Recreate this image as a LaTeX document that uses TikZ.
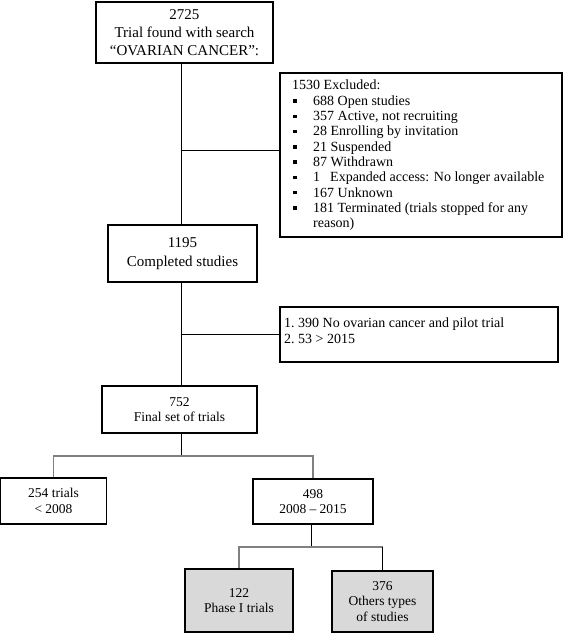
\documentclass[tikz,border=0pt]{standalone}
\usepackage{fontspec}
\setmainfont{Liberation Serif}
\usetikzlibrary{calc}
\definecolor{gline}{HTML}{808080}
\definecolor{gfill}{HTML}{D9D9D9}
\newcommand\bul{\makebox[21pt][l]{\hspace{1pt}\rule[2.6pt]{3.4pt}{3.4pt}}}
\begin{document}
\begin{tikzpicture}[x=1pt,y=-1pt,
  box/.style={draw, line width=1.1pt, inner sep=0pt, align=center},
  big/.style={font=\fontsize{15}{18.3}\selectfont},
  small/.style={font=\fontsize{13.5}{15.5}\selectfont},
  listtext/.style={anchor=north west, inner sep=0pt, align=left, font=\fontsize{14}{15.3}\selectfont},
  grey/.style={fill=gfill},
  conn/.style={line width=0.9pt},
  gconn/.style={draw=gline, line width=1.8pt}]
\useasboundingbox (0,0) rectangle (567,633);

% boxes
\node[box,big,minimum width=177pt,minimum height=61pt] (b1) at (184.5,32.5)
  {2725\\Trial found with search\\“OVARIAN CANCER”:};
\node[box,minimum width=282pt,minimum height=164pt] (ex) at (421,155) {};
\node[listtext] (ext) at (292,80) {1530 Excluded:\\
\bul 688 Open studies\\
\bul 357 Active, not recruiting\\
\bul 28 Enrolling by invitation\\
\bul 21 Suspended\\
\bul 87 Withdrawn\\
\bul 1\hspace{10pt}Expanded access: No longer available\\
\bul 167 Unknown\\
\bul 181 Terminated (trials stopped for any\\
\hspace*{21pt}reason)};
\node[box,big,minimum width=149pt,minimum height=57pt] (b2) at (182.5,253.5)
  {1195\\Completed studies};
\node[box,minimum width=278pt,minimum height=55pt] (b3) at (419,334.5) {};
\node[listtext] (b3t) at (284,318)
  {\makebox[14pt][l]{1.}390 No ovarian cancer and pilot trial\\
   \makebox[14pt][l]{2.}53 > 2015};
\node[box,small,minimum width=155pt,minimum height=47pt] (b752) at (179.5,409.5)
  {752\\Final set of trials};
\node[box,small,minimum width=106pt,minimum height=46pt] (b254) at (53.5,501)
  {254 trials\\< 2008};
\node[box,small,minimum width=120pt,minimum height=45pt] (b498) at (313,501.5)
  {498\\2008 – 2015};
\node[box,small,grey,minimum width=108pt,minimum height=63pt] (b122) at (239,600.5)
  {122\\Phase I trials};
\node[box,small,grey,minimum width=101pt,minimum height=61pt] (b376) at (382.5,601.5)
  {376\\Others types\\of studies};

% connectors
\coordinate (v) at (181,0);
\draw[conn] (b1.south -| v) -- (b2.north -| v);
\coordinate (c1) at (181,150);
\draw[conn] (c1) -- (c1 -| ex.west);
\draw[conn] (b2.south -| v) -- (b752.north -| v);
\coordinate (c2) at (181,334);
\draw[conn] (c2) -- (c2 -| b3.west);
\coordinate (s1) at (181,456);
\draw[conn] (b752.south -| v) -- (s1);
\draw[gconn] (b254.north) |- (s1) -| (b498.north);
\coordinate (s2) at (311,547);
\draw[conn] (b498.south -| s2) -- (s2);
\draw[gconn] (b122.north) |- (s2) -- (s2 -| b376.north);
\draw[conn] (s2 -| b376.north) -- (b376.north);
\end{tikzpicture}
\end{document}
